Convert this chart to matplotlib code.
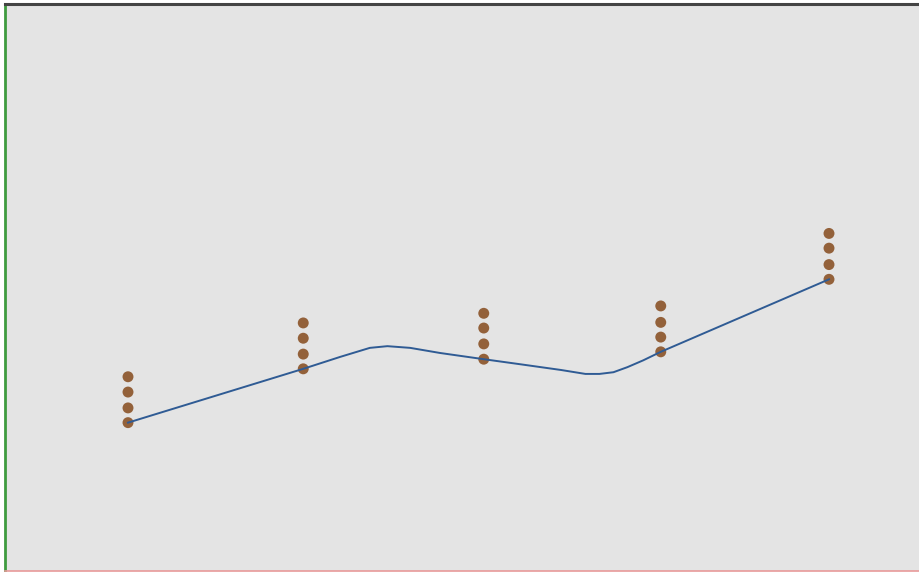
import numpy as np
import matplotlib
matplotlib.use("Agg")
import matplotlib.pyplot as plt

bg = "#e4e4e4"
dot_col = "#93613a"
line_col = "#2f5b94"

# groups along x, four readings each
xs = [1.0, 2.0, 3.03, 4.04, 5.0]
y_vals = [
    [26.1, 28.7, 31.5, 34.2],
    [35.6, 38.2, 41.0, 43.7],
    [37.3, 40.0, 42.8, 45.4],
    [38.6, 41.2, 43.8, 46.7],
    [51.4, 54.0, 56.9, 59.5],
]

# smoothed trend through the lowest reading of each group
trend_x = [1.0, 2.0, 2.21, 2.38, 2.48, 2.61, 2.78, 3.03, 3.24, 3.47,
           3.61, 3.69, 3.77, 3.85, 3.94, 4.04, 5.0]
trend_y = [26.1, 35.6, 37.7, 39.3, 39.6, 39.3, 38.4, 37.3, 36.4, 35.4,
           34.7, 34.7, 35.0, 35.9, 37.1, 38.6, 51.4]

fig = plt.figure(figsize=(9.19, 5.72), dpi=100)
ax = fig.add_axes([5/919, 1.5/572, 914/919, 566.5/572])
ax.set_facecolor(bg)

px = []
py = []
for x, ys in zip(xs, y_vals):
    for y in ys:
        px.append(x)
        py.append(y)

ax.plot(trend_x, trend_y, color=line_col, lw=1.4, zorder=3)
ax.scatter(px, py, s=62, c=dot_col, edgecolors="none", zorder=2)

ax.set_xlim(1 - 123/175.25, 1 + 791/175.25)
ax.set_ylim(0, 100)
ax.set_xticks([])
ax.set_yticks([])

ax.spines["right"].set_visible(False)
ax.spines["left"].set_color("#3f9b3f")
ax.spines["left"].set_linewidth(2)
ax.spines["top"].set_color("#444444")
ax.spines["top"].set_linewidth(2.2)
ax.spines["bottom"].set_color("#e89a9a")
ax.spines["bottom"].set_linewidth(1.2)

fig.savefig("out.png", dpi=100, facecolor="white")
